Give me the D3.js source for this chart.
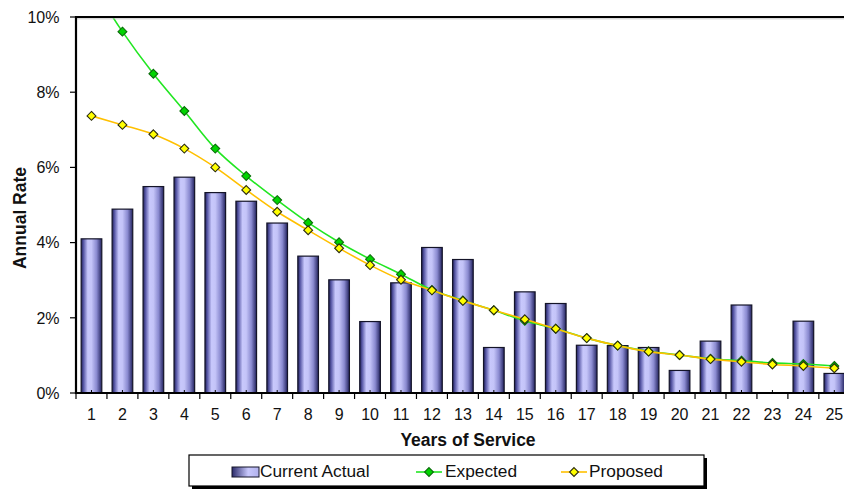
<!DOCTYPE html>
<html>
<head>
<meta charset="utf-8">
<script src="https://cdn.jsdelivr.net/npm/d3@7"></script>
<style>
  html, body { margin: 0; padding: 0; background: #fff; }
  svg { display: block; font-family: Arial, "Liberation Sans", sans-serif; }
</style>
</head>
<body>
<svg id="chart" width="844" height="489"></svg>
<script>
// Years of service and annual rates (%)
const categories = ["1","2","3","4","5","6","7","8","9","10","11","12","13","14","15","16","17","18","19","20","21","22","23","24","25"];
const currentActual = [4.10, 4.89, 5.49, 5.74, 5.33, 5.10, 4.52, 3.64, 3.01, 1.90, 2.93, 3.87, 3.55, 1.21, 2.69, 2.38, 1.27, 1.26, 1.21, 0.60, 1.38, 2.34, 0, 1.91, 0.52];
const expected = [10.9, 9.61, 8.49, 7.50, 6.50, 5.77, 5.13, 4.53, 4.01, 3.56, 3.16, 2.74, 2.46, 2.20, 1.92, 1.71, 1.46, 1.26, 1.11, 1.01, 0.91, 0.86, 0.80, 0.77, 0.72];
const proposed = [7.37, 7.13, 6.88, 6.50, 6.00, 5.40, 4.82, 4.33, 3.85, 3.40, 3.01, 2.73, 2.45, 2.20, 1.96, 1.71, 1.46, 1.26, 1.10, 1.01, 0.90, 0.83, 0.76, 0.72, 0.66];
const yTicks = [0, 2, 4, 6, 8, 10];
const seriesNames = ["Current Actual", "Expected", "Proposed"];

const svg = d3.select("#chart");
const plotLeft = 76, plotRight = 849.8, plotTop = 17, plotBottom = 393;

const x = d3.scaleBand().domain(categories).range([plotLeft, plotRight])
  .paddingInner(1/3).paddingOuter(1/6);
const cx = c => x(c) + x.bandwidth() / 2;
const y = d3.scaleLinear().domain([0, 10]).range([plotBottom, plotTop]);

// Bar gradient
const defs = svg.append("defs");
const grad = defs.append("linearGradient").attr("id", "barGrad")
  .attr("x1", "0%").attr("x2", "100%").attr("y1", "0%").attr("y2", "0%");
[[0, "#1e1e58"], [0.12, "#5a5aa8"], [0.32, "#c8c8fc"], [0.5, "#c4c4f8"], [0.75, "#8a8ad0"], [1, "#22225e"]]
  .forEach(([o, c]) => grad.append("stop").attr("offset", o).attr("stop-color", c));
const legGrad = defs.append("linearGradient").attr("id", "legGrad")
  .attr("x1", "0%").attr("x2", "100%");
[[0, "#2a2a6a"], [0.6, "#c8c8fc"], [1, "#b0b0ec"]]
  .forEach(([o, c]) => legGrad.append("stop").attr("offset", o).attr("stop-color", c));
defs.append("clipPath").attr("id", "plotClip")
  .append("rect").attr("x", plotLeft).attr("y", plotTop)
  .attr("width", plotRight - plotLeft).attr("height", plotBottom - plotTop);

// Bars
svg.append("g").selectAll("rect")
  .data(categories.map((c, i) => ({ c, v: currentActual[i] })).filter(d => d.v > 0))
  .join("rect")
  .attr("x", d => x(d.c))
  .attr("y", d => y(d.v))
  .attr("width", x.bandwidth())
  .attr("height", d => y(0) - y(d.v))
  .attr("fill", "url(#barGrad)")
  .attr("stroke", "#141428")
  .attr("stroke-width", 1.2);

// Lines and markers
const line = d3.line().x(d => cx(d.c)).y(d => y(d.v)).curve(d3.curveCatmullRom.alpha(0.5));
const diamond = d3.symbol().type(d3.symbolDiamond2).size(50);
const plot = svg.append("g").attr("clip-path", "url(#plotClip)");

function drawSeries(values, lineColor, fill, stroke) {
  const data = categories.map((c, i) => ({ c, v: values[i] }));
  plot.append("path").datum(data)
    .attr("d", line).attr("fill", "none")
    .attr("stroke", lineColor).attr("stroke-width", 1.6);
  plot.append("g").selectAll("path").data(data).join("path")
    .attr("transform", d => `translate(${cx(d.c)},${y(d.v)})`)
    .attr("d", diamond)
    .attr("fill", fill).attr("stroke", stroke).attr("stroke-width", 1.1);
}
drawSeries(expected, "#22e622", "#00d400", "#0a6a0a");
drawSeries(proposed, "#ffc000", "#ffff00", "#2a2a10");

// Axes
const axes = svg.append("g").attr("stroke", "#000").attr("fill", "none");
axes.append("line").attr("x1", plotLeft).attr("x2", 844).attr("y1", plotTop).attr("y2", plotTop).attr("stroke-width", 2);
axes.append("line").attr("x1", plotLeft).attr("x2", 844).attr("y1", plotTop + 1.8).attr("y2", plotTop + 1.8).attr("stroke", "#bbb").attr("stroke-width", 0.8);
axes.append("line").attr("x1", plotLeft).attr("x2", plotLeft).attr("y1", plotTop - 1).attr("y2", plotBottom + 1).attr("stroke-width", 2.2);
axes.append("line").attr("x1", plotLeft - 1).attr("x2", 844).attr("y1", plotBottom).attr("y2", plotBottom).attr("stroke-width", 2.2);

// y ticks
axes.selectAll(".yt").data(yTicks).join("line")
  .attr("x1", plotLeft - 6).attr("x2", plotLeft).attr("y1", d => y(d)).attr("y2", d => y(d)).attr("stroke-width", 1.2);
svg.append("g").selectAll("text").data(yTicks).join("text")
  .attr("x", 59.5).attr("y", d => y(d)).attr("dy", "0.36em")
  .attr("text-anchor", "end").attr("font-size", 16).attr("fill", "#111")
  .text(d => d + "%");

// x ticks: outside at category boundaries, short inside marks at centers
const bounds = categories.map(c => x(c) - x.step() * x.paddingInner() / 2);
axes.selectAll(".xt").data(bounds).join("line")
  .attr("x1", d => d).attr("x2", d => d).attr("y1", plotBottom).attr("y2", plotBottom + 6).attr("stroke-width", 1.2);
axes.selectAll(".xc").data(categories).join("line")
  .attr("x1", d => cx(d)).attr("x2", d => cx(d)).attr("y1", plotBottom - 3).attr("y2", plotBottom).attr("stroke-width", 1);
svg.append("g").selectAll("text").data(categories).join("text")
  .attr("x", d => cx(d)).attr("y", 420)
  .attr("text-anchor", "middle").attr("font-size", 16).attr("fill", "#111")
  .text(d => d);

// Axis titles
svg.append("text").attr("x", 468).attr("y", 446)
  .attr("text-anchor", "middle").attr("font-size", 17.5).attr("font-weight", "bold").attr("fill", "#111")
  .text("Years of Service");
svg.append("text").attr("transform", "translate(26,218) rotate(-90)")
  .attr("text-anchor", "middle").attr("font-size", 17.5).attr("font-weight", "bold").attr("fill", "#111")
  .text("Annual Rate");

// Legend
const leg = svg.append("g");
leg.append("rect").attr("x", 192).attr("y", 458).attr("width", 515).attr("height", 31).attr("fill", "#000");
leg.append("rect").attr("x", 189).attr("y", 455).attr("width", 515).attr("height", 31)
  .attr("fill", "#fff").attr("stroke", "#000").attr("stroke-width", 1.2);
leg.append("rect").attr("x", 232).attr("y", 467).attr("width", 27).attr("height", 10)
  .attr("fill", "url(#legGrad)").attr("stroke", "#141428").attr("stroke-width", 1);
leg.append("line").attr("x1", 416).attr("x2", 442).attr("y1", 472).attr("y2", 472)
  .attr("stroke", "#22e622").attr("stroke-width", 1.6);
leg.append("path").attr("transform", "translate(429,472)").attr("d", diamond)
  .attr("fill", "#00d400").attr("stroke", "#0a6a0a").attr("stroke-width", 1.1);
leg.append("line").attr("x1", 561).attr("x2", 587).attr("y1", 472).attr("y2", 472)
  .attr("stroke", "#ffc000").attr("stroke-width", 1.6);
leg.append("path").attr("transform", "translate(574,472)").attr("d", diamond)
  .attr("fill", "#ffff00").attr("stroke", "#2a2a10").attr("stroke-width", 1.1);
leg.selectAll("text").data(seriesNames).join("text")
  .attr("x", (d, i) => [260, 445, 589][i]).attr("y", 477)
  .attr("font-size", 17.3).attr("fill", "#111")
  .text(d => d);
</script>
</body>
</html>
